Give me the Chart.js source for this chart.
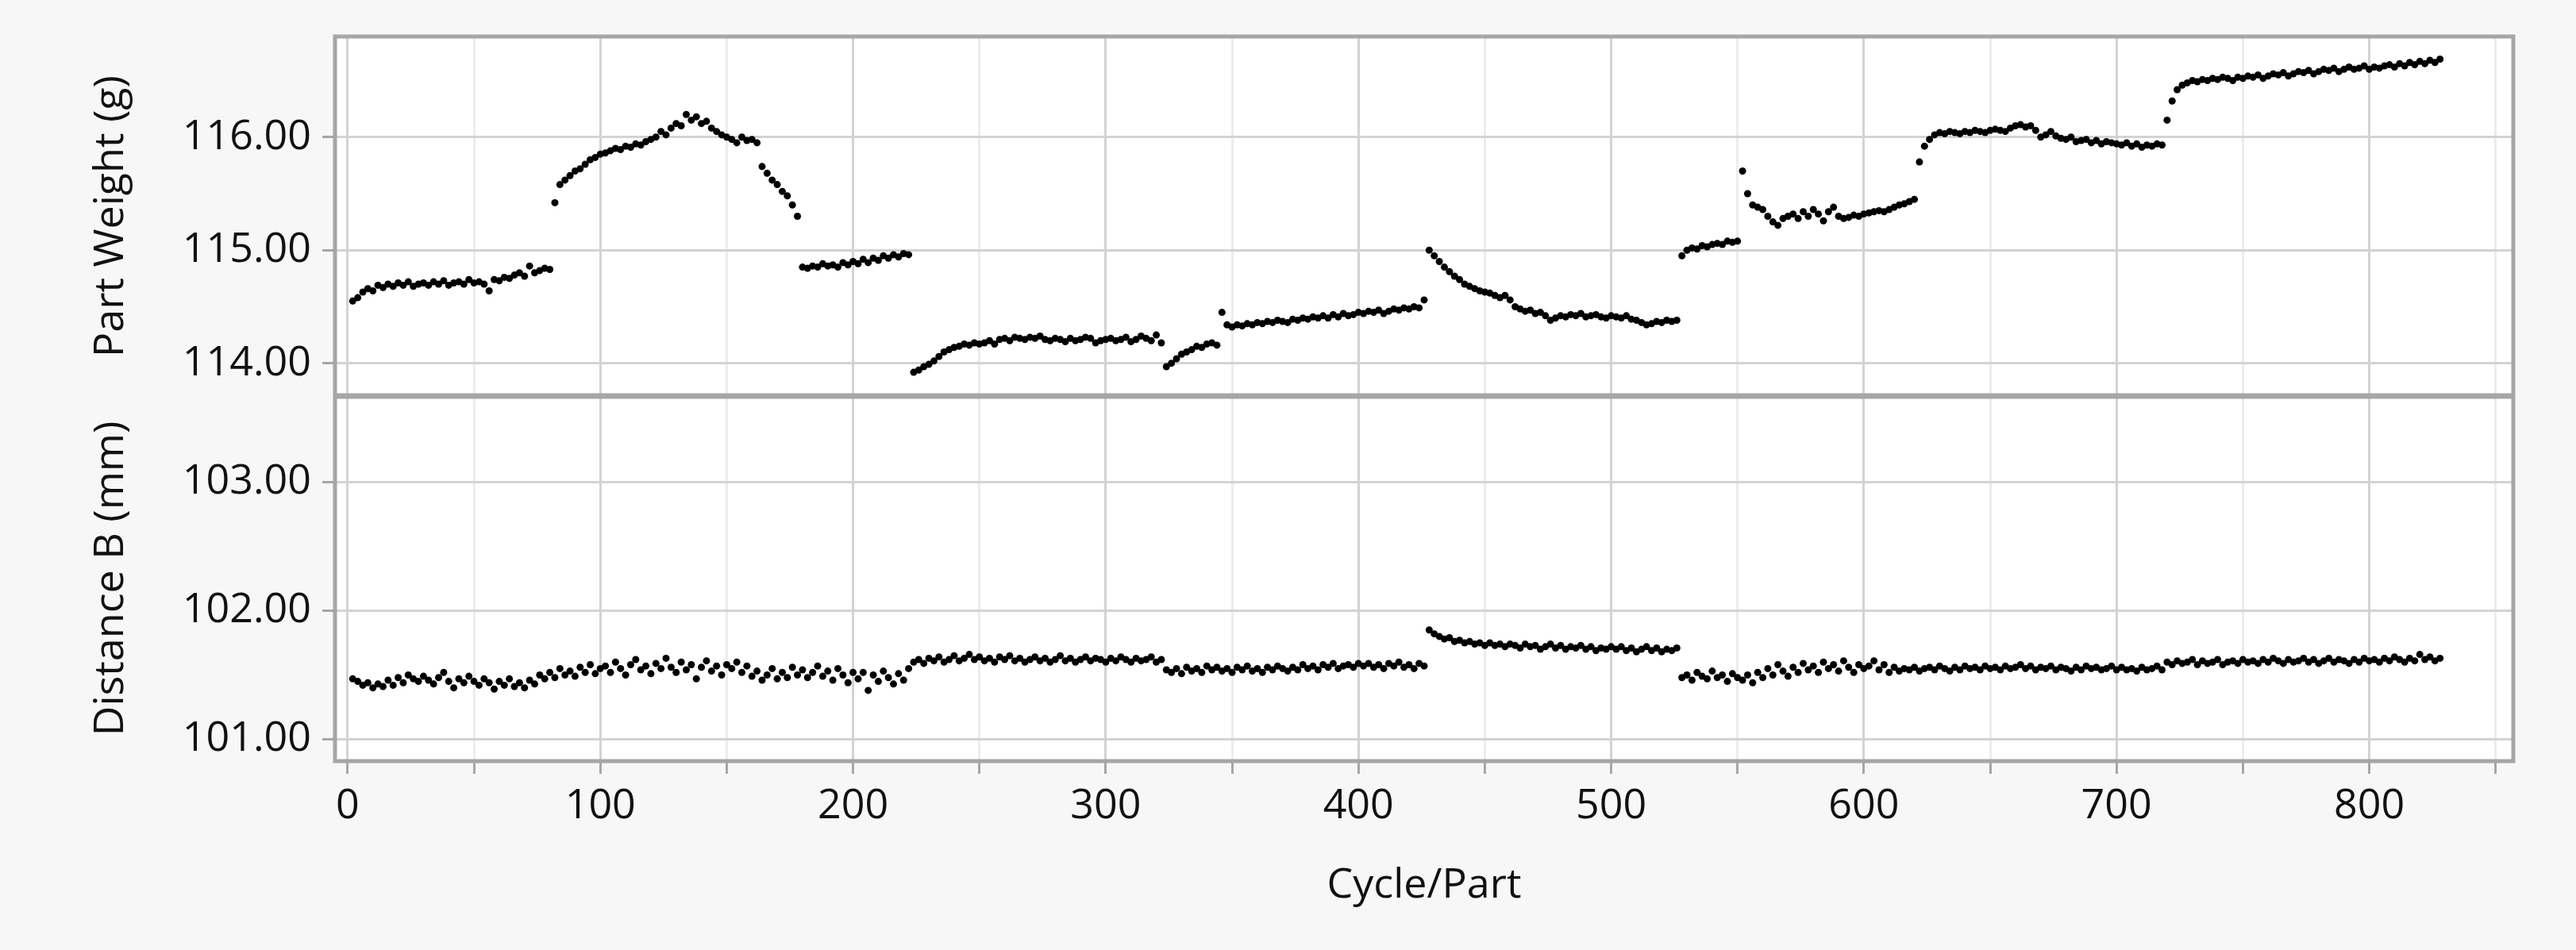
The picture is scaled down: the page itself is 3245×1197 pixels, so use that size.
<!DOCTYPE html>
<html>
<head>
<meta charset="utf-8">
<script src="https://cdn.jsdelivr.net/npm/chart.js@4.4.0/dist/chart.umd.min.js"></script>
<style>
  html, body { margin: 0; padding: 0; background: #f7f7f7; }
  #wrap { width: 3245px; height: 1197px; }
</style>
</head>
<body>
<div id="wrap"><canvas id="chart" width="3245" height="1197"></canvas></div>
<script>
// Cycle numbers: every 2nd part, 2..828
const cycleStart = 2, cycleStep = 2;

// Part Weight (g)
const partWeight = [
  114.55,114.58,114.63,114.66,114.64,114.69,114.67,114.70,114.68,114.71,114.69,114.72,114.68,114.70,114.71,114.69,114.72,114.70,114.73,114.69,114.71,114.72,114.70,114.74,114.71,
  114.72,114.70,114.64,114.74,114.73,114.76,114.75,114.78,114.80,114.77,114.86,114.80,114.82,114.84,114.83,115.42,115.58,115.62,115.66,115.70,115.72,115.76,115.80,115.82,115.85,
  115.86,115.88,115.90,115.89,115.92,115.91,115.94,115.93,115.96,115.98,116.00,116.05,116.02,116.08,116.12,116.10,116.20,116.15,116.18,116.12,116.14,116.08,116.05,116.02,116.00,
  115.98,115.95,116.00,115.97,115.98,115.95,115.74,115.68,115.62,115.58,115.52,115.48,115.40,115.30,114.85,114.84,114.86,114.85,114.88,114.86,114.87,114.85,114.89,114.87,114.90,
  114.88,114.92,114.89,114.93,114.91,114.95,114.93,114.96,114.94,114.97,114.96,113.92,113.94,113.97,113.99,114.02,114.06,114.10,114.12,114.14,114.15,114.17,114.16,114.18,114.17,
  114.18,114.20,114.17,114.21,114.22,114.20,114.23,114.22,114.21,114.23,114.22,114.24,114.21,114.20,114.22,114.21,114.19,114.22,114.20,114.21,114.23,114.22,114.18,114.20,114.21,
  114.22,114.20,114.21,114.23,114.19,114.21,114.24,114.22,114.20,114.25,114.18,113.97,114.00,114.04,114.08,114.10,114.12,114.15,114.14,114.17,114.18,114.16,114.45,114.34,114.32,
  114.34,114.33,114.35,114.34,114.36,114.35,114.37,114.36,114.38,114.37,114.36,114.39,114.38,114.40,114.39,114.41,114.40,114.42,114.40,114.43,114.41,114.44,114.42,114.43,114.45,
  114.44,114.46,114.45,114.47,114.44,114.46,114.48,114.47,114.49,114.48,114.50,114.49,114.56,115.00,114.95,114.90,114.85,114.81,114.77,114.74,114.70,114.68,114.66,114.64,114.63,
  114.62,114.60,114.58,114.60,114.56,114.50,114.48,114.46,114.47,114.44,114.45,114.42,114.38,114.40,114.42,114.41,114.43,114.42,114.44,114.41,114.42,114.43,114.41,114.40,114.42,
  114.41,114.40,114.42,114.39,114.38,114.36,114.34,114.35,114.37,114.36,114.38,114.37,114.38,114.95,115.00,115.02,115.01,115.04,115.03,115.05,115.06,115.05,115.08,115.07,115.08,
  115.70,115.50,115.40,115.38,115.36,115.30,115.25,115.22,115.28,115.30,115.32,115.28,115.34,115.30,115.36,115.32,115.26,115.34,115.38,115.30,115.28,115.29,115.31,115.30,115.32,
  115.33,115.34,115.35,115.34,115.36,115.38,115.40,115.41,115.43,115.45,115.78,115.92,115.98,116.02,116.04,116.03,116.05,116.04,116.03,116.05,116.04,116.06,116.05,116.04,116.06,
  116.07,116.06,116.05,116.08,116.10,116.11,116.09,116.10,116.06,116.00,116.02,116.05,116.01,115.99,115.98,116.00,115.96,115.97,115.98,115.95,115.97,115.94,115.96,115.95,115.94,
  115.93,115.95,115.92,115.94,115.91,115.93,115.92,115.94,115.93,116.15,116.32,116.42,116.46,116.48,116.50,116.49,116.51,116.50,116.52,116.51,116.53,116.52,116.50,116.53,116.52,
  116.54,116.53,116.55,116.52,116.54,116.56,116.55,116.57,116.54,116.56,116.58,116.57,116.59,116.56,116.58,116.60,116.59,116.61,116.58,116.60,116.62,116.60,116.61,116.63,116.60,
  116.62,116.61,116.63,116.64,116.62,116.65,116.63,116.66,116.64,116.67,116.65,116.68,116.66,116.69
];

// Distance B (mm)
const distanceB = [
  101.47,101.45,101.42,101.44,101.40,101.43,101.41,101.46,101.42,101.48,101.44,101.50,101.47,101.45,101.49,101.46,101.43,101.48,101.52,101.45,101.40,101.47,101.44,101.49,101.45,
  101.42,101.47,101.44,101.39,101.45,101.42,101.47,101.41,101.44,101.40,101.46,101.43,101.50,101.47,101.52,101.48,101.55,101.50,101.53,101.49,101.56,101.52,101.58,101.51,101.55,
  101.57,101.52,101.60,101.55,101.50,101.58,101.62,101.54,101.57,101.51,101.59,101.55,101.63,101.56,101.52,101.60,101.54,101.58,101.47,101.56,101.61,101.53,101.57,101.50,101.58,
  101.55,101.60,101.52,101.57,101.49,101.53,101.46,101.50,101.55,101.47,101.52,101.48,101.56,101.50,101.54,101.48,101.52,101.57,101.49,101.53,101.46,101.55,101.50,101.44,101.52,
  101.47,101.52,101.38,101.50,101.45,101.53,101.48,101.43,101.51,101.46,101.55,101.60,101.62,101.59,101.63,101.61,101.64,101.60,101.62,101.65,101.61,101.63,101.66,101.62,101.64,
  101.61,101.63,101.60,101.64,101.62,101.65,101.61,101.63,101.60,101.62,101.64,101.61,101.63,101.60,101.62,101.65,101.61,101.63,101.60,101.62,101.64,101.61,101.63,101.62,101.60,
  101.63,101.61,101.64,101.62,101.60,101.63,101.61,101.62,101.64,101.60,101.62,101.54,101.52,101.55,101.51,101.56,101.53,101.55,101.52,101.57,101.54,101.56,101.53,101.55,101.52,
  101.56,101.54,101.57,101.53,101.55,101.52,101.56,101.54,101.57,101.55,101.53,101.56,101.54,101.58,101.55,101.57,101.54,101.58,101.56,101.59,101.55,101.57,101.58,101.56,101.59,
  101.57,101.59,101.56,101.58,101.55,101.59,101.57,101.60,101.56,101.58,101.55,101.59,101.57,101.85,101.82,101.80,101.78,101.79,101.76,101.77,101.75,101.76,101.74,101.75,101.73,
  101.75,101.73,101.74,101.72,101.74,101.73,101.71,101.74,101.72,101.73,101.70,101.72,101.74,101.71,101.73,101.70,101.72,101.71,101.73,101.70,101.72,101.69,101.71,101.70,101.72,
  101.70,101.72,101.69,101.71,101.68,101.70,101.72,101.69,101.71,101.68,101.70,101.69,101.71,101.48,101.50,101.46,101.52,101.49,101.47,101.53,101.48,101.50,101.45,101.51,101.48,
  101.46,101.50,101.44,101.52,101.48,101.55,101.50,101.58,101.53,101.49,101.56,101.52,101.59,101.54,101.57,101.52,101.60,101.55,101.58,101.53,101.61,101.56,101.52,101.58,101.55,
  101.57,101.61,101.54,101.58,101.52,101.56,101.53,101.55,101.54,101.56,101.53,101.55,101.56,101.54,101.57,101.55,101.53,101.56,101.54,101.57,101.55,101.56,101.54,101.57,101.55,
  101.56,101.54,101.57,101.55,101.56,101.58,101.55,101.57,101.54,101.56,101.55,101.57,101.54,101.56,101.55,101.53,101.56,101.54,101.57,101.55,101.56,101.54,101.55,101.57,101.54,
  101.56,101.54,101.55,101.53,101.56,101.54,101.55,101.57,101.54,101.60,101.58,101.61,101.59,101.60,101.62,101.58,101.61,101.59,101.60,101.62,101.58,101.60,101.61,101.59,101.62,
  101.60,101.61,101.59,101.62,101.60,101.63,101.61,101.59,101.62,101.60,101.61,101.63,101.60,101.62,101.59,101.61,101.63,101.60,101.62,101.61,101.59,101.62,101.60,101.63,101.61,
  101.62,101.60,101.63,101.61,101.64,101.62,101.60,101.63,101.61,101.66,101.62,101.64,101.61,101.63
];

const xTicks = [0, 50, 100, 150, 200, 250, 300, 350, 400, 450, 500, 550, 600, 650, 700, 750, 800, 850];
const weightTicks = [114, 114.5, 115, 115.5, 116, 116.5];
const distanceTicks = [101, 101.5, 102, 102.5, 103, 103.5];

const toPoints = vals => vals.map((v, i) => ({ x: cycleStart + i * cycleStep, y: v }));

const FONT = "'Open Sans', 'Noto Sans', sans-serif";
const FS = 52;
const majorGrid = "#d3d3d3", minorGrid = "#ececec";
const isMajor = v => Math.abs(v - Math.round(v)) < 1e-6;

function yAxis(ticks, min, max, title, weight) {
  return {
    type: "linear", position: "left", stack: "panels", stackWeight: weight,
    min: min, max: max, offset: false,
    afterBuildTicks: ax => { ax.ticks = ticks.map(v => ({ value: v })); },
    afterFit: ax => { ax.width = 313; },
    border: { display: false },
    grid: {
      color: c => isMajor(c.tick.value) ? majorGrid : minorGrid,
      tickColor: "#a6a6a6", lineWidth: 3, tickLength: 16
    },
    ticks: {
      color: "#111", padding: 14, font: { family: FONT, size: FS },
      callback: v => isMajor(v) ? v.toFixed(2) : ""
    },
    title: { display: true, text: title, color: "#111", padding: { top: 0, bottom: 10 }, font: { family: FONT, size: FS } }
  };
}

const framePlugin = {
  id: "frame",
  beforeDraw(chart) {
    const { ctx, chartArea: a } = chart;
    ctx.save();
    ctx.fillStyle = "#f7f7f7";
    ctx.fillRect(0, 0, chart.width, chart.height);
    ctx.fillStyle = "#ffffff";
    ctx.fillRect(a.left, a.top, a.right - a.left, a.bottom - a.top);
    ctx.restore();
  },
  afterDatasetsDraw(chart) {
    const { ctx, chartArea: a } = chart;
    const split = chart.scales.yW.bottom;
    ctx.save();
    ctx.strokeStyle = "#a6a6a6";
    ctx.lineWidth = 5;
    ctx.strokeRect(a.left, a.top, a.right - a.left, a.bottom - a.top);
    ctx.lineWidth = 7;
    ctx.beginPath();
    ctx.moveTo(a.left, split);
    ctx.lineTo(a.right, split);
    ctx.stroke();
    ctx.restore();
  }
};

new Chart(document.getElementById("chart").getContext("2d"), {
  type: "scatter",
  data: {
    datasets: [
      { label: "Part Weight (g)", data: toPoints(partWeight), yAxisID: "yW",
        pointRadius: 4.5, pointBackgroundColor: "#000", pointBorderWidth: 0 },
      { label: "Distance B (mm)", data: toPoints(distanceB), yAxisID: "yD",
        pointRadius: 4.5, pointBackgroundColor: "#000", pointBorderWidth: 0 }
    ]
  },
  options: {
    responsive: false, animation: false,
    layout: { padding: { left: 109, right: 79, top: 46, bottom: 50 } },
    plugins: { legend: { display: false }, tooltip: { enabled: false } },
    scales: {
      x: {
        type: "linear", min: -5, max: 857,
        afterBuildTicks: ax => { ax.ticks = xTicks.map(v => ({ value: v })); },
        afterFit: ax => { ax.height = 1197 - 50 - 959; },
        border: { display: false },
        grid: {
          color: c => c.tick && c.tick.value % 100 === 0 ? majorGrid : minorGrid,
          tickColor: "#a6a6a6", lineWidth: 3, tickLength: 16
        },
        ticks: {
          color: "#111", padding: 10, maxRotation: 0, font: { family: FONT, size: FS },
          callback: v => v % 100 === 0 ? String(v) : ""
        },
        title: { display: true, text: "Cycle/Part", color: "#111", padding: { top: 0, bottom: 0 }, font: { family: FONT, size: FS } }
      },
      yD: yAxis(distanceTicks, 100.83, 103.67, "Distance B (mm)", 460),
      yW: yAxis(weightTicks, 113.71, 116.89, "Part Weight (g)", 453)
    }
  },
  plugins: [framePlugin]
});
</script>
</body>
</html>
